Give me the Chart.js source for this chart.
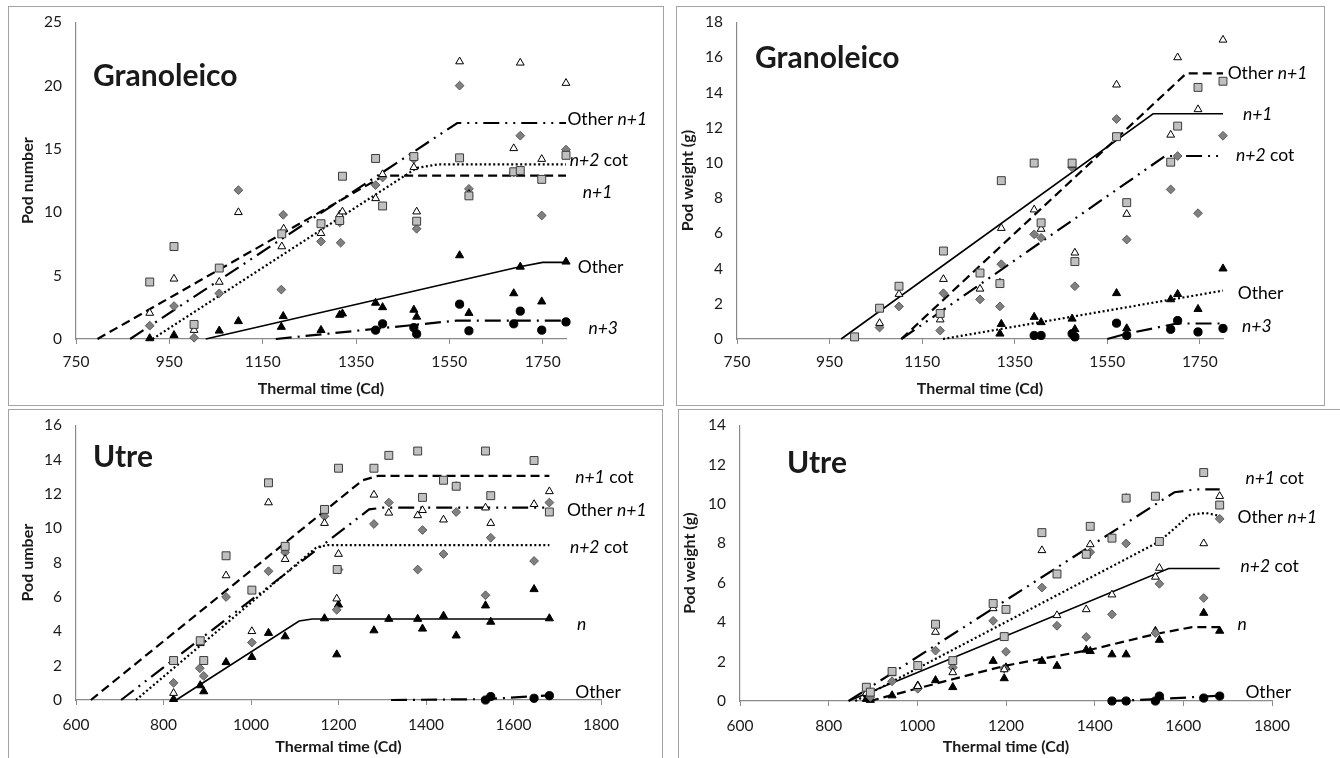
<!DOCTYPE html>
<html><head><meta charset="utf-8">
<script src="https://cdn.jsdelivr.net/npm/chart.js@4.4.0/dist/chart.umd.min.js"></script>
<style>
html,body{margin:0;padding:0;background:#fff;width:1340px;height:758px;overflow:hidden;}
.panel{position:absolute;border:1px solid #a3a3a3;box-sizing:border-box;}
canvas{position:absolute;}
</style></head><body>
<div class="panel" style="left:8px;top:6px;width:656px;height:400px"></div>
<div class="panel" style="left:676px;top:6px;width:649px;height:400px"></div>
<div class="panel" style="left:8px;top:409px;width:655px;height:360px"></div>
<div class="panel" style="left:678px;top:409px;width:670px;height:360px"></div>
<canvas id="c1"></canvas><canvas id="c2"></canvas><canvas id="c3"></canvas><canvas id="c4"></canvas>
<script>
// ---------- Tick labels ----------
const granXTicks = [750, 950, 1150, 1350, 1550, 1750];
const utreXTicks = [600, 800, 1000, 1200, 1400, 1600, 1800];
const granNumYTicks = [0, 5, 10, 15, 20, 25];
const granWtYTicks = [0, 2, 4, 6, 8, 10, 12, 14, 16, 18];
const utreNumYTicks = [0, 2, 4, 6, 8, 10, 12, 14, 16];
const utreWtYTicks = [0, 2, 4, 6, 8, 10, 12, 14];

// ---------- Granoleico, pod number ----------
const granNumSquares = [[908,4.5],[960,7.3],[1003,1.15],[1057,5.6],[1191,8.3],[1275,9.1],[1315,9.35],[1321,12.85],[1392,14.25],[1407,10.5],[1474,14.4],[1480,9.3],[1572,14.3],[1592,11.3],[1688,13.2],[1702,13.3],[1748,12.6],[1800,14.5]];
const granNumOpenTri = [[908,2.05],[960,4.75],[1003,0.7],[1057,4.5],[1098,10.0],[1191,7.3],[1195,8.7],[1275,8.35],[1315,9.8],[1321,10.05],[1392,11.1],[1407,13.0],[1474,13.55],[1480,10.05],[1572,21.9],[1592,11.45],[1688,15.05],[1702,21.8],[1748,14.2],[1800,20.2]];
const granNumDiamonds = [[908,1.05],[960,2.6],[1003,0.1],[1057,3.6],[1098,11.75],[1190,3.9],[1194,9.8],[1275,7.7],[1315,9.2],[1317,7.6],[1392,12.15],[1407,12.75],[1474,14.2],[1480,8.7],[1572,20.0],[1592,11.85],[1688,13.15],[1702,16.05],[1748,9.75],[1800,14.95]];
const granNumBlackTri = [[908,0.05],[960,0.3],[1057,0.65],[1098,1.4],[1190,0.95],[1194,1.8],[1275,0.7],[1315,1.9],[1321,2.0],[1392,2.85],[1407,2.5],[1474,2.3],[1480,1.75],[1572,6.6],[1592,2.05],[1688,3.6],[1702,5.7],[1748,2.95],[1800,6.1]];
const granNumCircles = [[1392,0.7],[1407,1.2],[1474,0.9],[1480,0.4],[1572,2.75],[1592,0.65],[1688,1.2],[1702,2.2],[1748,0.7],[1800,1.35]];
const granNumOtherN1 = [[866,0],[1567,17.05],[1800,17.05]];
const granNumN2cot = [[914,0],[1480,13.5],[1525,13.78],[1800,13.78]];
const granNumN1 = [[796,0],[1410,12.9],[1800,12.9]];
const granNumOther = [[1028,0],[1701,5.7],[1750,6.05],[1800,6.05]];
const granNumN3 = [[1178,0],[1565,1.45],[1800,1.45]];

// ---------- Granoleico, pod weight ----------
const granWtSquares = [[1004,0.12],[1058,1.75],[1100,3.0],[1189,1.45],[1196,5.0],[1275,3.75],[1318,3.15],[1321,9.0],[1392,10.0],[1407,6.6],[1474,10.0],[1480,4.4],[1570,11.5],[1592,7.75],[1687,10.05],[1702,12.1],[1746,14.3],[1800,14.65]];
const granWtOpenTri = [[1058,0.9],[1100,2.55],[1189,1.1],[1196,3.4],[1275,2.85],[1318,3.2],[1321,6.3],[1392,7.35],[1407,6.25],[1474,9.9],[1480,4.9],[1570,14.45],[1592,7.1],[1687,11.6],[1702,16.0],[1746,13.05],[1800,17.0]];
const granWtDiamonds = [[1058,0.65],[1100,1.85],[1189,0.48],[1196,2.6],[1275,2.25],[1318,1.85],[1321,4.25],[1392,5.95],[1407,5.75],[1474,9.75],[1480,3.0],[1570,12.5],[1592,5.65],[1687,8.5],[1702,10.4],[1746,7.15],[1800,11.55]];
const granWtBlackTri = [[1318,0.3],[1321,0.85],[1392,1.25],[1407,0.95],[1474,1.15],[1480,0.55],[1570,2.6],[1592,0.6],[1687,2.25],[1702,2.55],[1746,1.7],[1800,4.0]];
const granWtCircles = [[1392,0.2],[1407,0.2],[1474,0.3],[1480,0.12],[1570,0.9],[1592,0.2],[1687,0.55],[1702,1.05],[1746,0.4],[1800,0.6]];
const granWtN1 = [[975,0],[1649,12.8],[1800,12.8]];
const granWtOtherN1 = [[1105,0],[1721,15.1],[1800,15.1]];
const granWtN2cot = [[1105,0],[1675,10.4],[1800,10.4]];
const granWtOther = [[1195,0],[1800,2.75]];
const granWtN3 = [[1550,0],[1592,0.3],[1700,0.88],[1800,0.88]];

// ---------- Utre, pod number ----------
const utreNumSquares = [[823,2.3],[884,3.45],[892,2.3],[943,8.4],[1002,6.4],[1040,12.65],[1078,8.95],[1168,11.1],[1197,7.6],[1200,13.5],[1281,13.5],[1315,14.25],[1381,14.5],[1392,11.8],[1440,12.8],[1469,12.45],[1536,14.5],[1548,11.9],[1647,13.95],[1682,10.95]];
const utreNumOpenTri = [[823,0.4],[884,3.3],[943,7.25],[1002,4.0],[1040,11.5],[1078,8.2],[1168,10.3],[1196,5.9],[1200,8.5],[1281,11.95],[1315,10.9],[1381,10.75],[1392,11.05],[1440,10.5],[1469,12.45],[1536,11.2],[1548,10.3],[1647,11.4],[1682,12.15]];
const utreNumDiamonds = [[823,1.0],[883,1.85],[892,1.4],[943,6.0],[1002,3.35],[1040,7.5],[1078,8.6],[1168,10.7],[1196,5.25],[1200,7.6],[1281,10.25],[1315,11.5],[1381,7.6],[1392,9.9],[1440,8.5],[1469,10.95],[1536,6.1],[1548,9.45],[1647,8.1],[1682,11.5]];
const utreNumBlackTri = [[823,0.05],[884,0.85],[892,0.5],[943,2.2],[1002,2.5],[1040,3.9],[1078,3.7],[1168,4.75],[1196,2.65],[1200,5.55],[1281,4.05],[1315,4.72],[1381,4.72],[1392,4.15],[1440,4.9],[1469,3.75],[1536,5.5],[1548,4.55],[1647,6.45],[1682,4.75]];
const utreNumCircles = [[1536,0.0],[1548,0.2],[1647,0.1],[1682,0.25]];
const utreNumN1cot = [[634,0],[1255,12.8],[1290,13.05],[1682,13.05]];
const utreNumOtherN1 = [[703,0],[1270,11.1],[1300,11.2],[1682,11.2]];
const utreNumN2cot = [[737,0],[1150,8.9],[1175,9.02],[1682,9.02]];
const utreNumN = [[829,0],[1110,4.6],[1140,4.72],[1682,4.72]];
const utreNumOther = [[1320,0],[1536,0.05],[1682,0.27]];

// ---------- Utre, pod weight ----------
const utreWtSquares = [[885,0.7],[894,0.45],[943,1.5],[1001,1.8],[1041,3.9],[1080,2.05],[1171,4.95],[1196,3.27],[1200,4.65],[1281,8.55],[1315,6.45],[1381,7.45],[1390,8.87],[1439,8.27],[1471,10.3],[1537,10.4],[1546,8.1],[1646,11.6],[1682,9.95]];
const utreWtOpenTri = [[885,0.4],[943,1.4],[1001,0.75],[1041,3.5],[1080,1.45],[1171,4.7],[1196,1.6],[1281,7.65],[1315,4.35],[1381,4.65],[1390,7.95],[1439,5.4],[1471,10.3],[1537,6.3],[1546,6.75],[1646,8.0],[1682,10.4]];
const utreWtDiamonds = [[885,0.45],[894,0.2],[943,1.0],[1001,0.62],[1041,2.56],[1080,1.7],[1171,4.07],[1196,1.65],[1200,2.5],[1281,5.76],[1315,3.82],[1381,3.25],[1390,7.56],[1439,4.4],[1471,8.0],[1537,3.45],[1546,5.95],[1646,5.23],[1682,9.25]];
const utreWtBlackTri = [[885,0.1],[894,0.05],[943,0.28],[1001,0.78],[1041,1.05],[1080,0.7],[1171,2.03],[1196,1.15],[1200,1.7],[1281,2.03],[1315,1.78],[1381,2.6],[1390,2.53],[1439,2.36],[1471,2.36],[1537,3.55],[1546,3.1],[1646,4.47],[1682,3.56]];
const utreWtCircles = [[1439,0],[1471,0],[1537,0],[1546,0.25],[1646,0.15],[1682,0.25]];
const utreWtN1cot = [[845,0],[1580,10.6],[1630,10.75],[1682,10.75]];
const utreWtOtherN1 = [[860,0],[1546,8.1],[1615,9.45],[1650,9.55],[1682,9.4]];
const utreWtN2cot = [[845,0],[1567,6.73],[1682,6.73]];
const utreWtN = [[893,0],[1082,1.12],[1200,1.8],[1390,2.6],[1537,3.4],[1620,3.75],[1682,3.75]];
const utreWtOther = [[1435,0],[1546,0.1],[1682,0.27]];

// ---------- styles ----------
const FONT = 'Lato, "Open Sans", sans-serif';
const AXIS_GRAY = '#8a8a8a';
const DASH = [9,5], DOT = [2,2.5], LDD = [16,6,2,6,2,6], LD = [16,6,2,6], SOLID = [];

function markerSets(sq, ot, di, bt, ci) {
  return [
    {data: sq, pointStyle:'rect', pointRadius:5.6, backgroundColor:'#c0c0c0', borderColor:'#3c3c3c', borderWidth:1},
    {data: ot, pointStyle:'triangle', pointRadius:4.5, backgroundColor:'#ffffff', borderColor:'#000', borderWidth:1},
    {data: di, pointStyle:'rectRot', pointRadius:4.4, backgroundColor:'#808080', borderColor:'#5c5c5c', borderWidth:1},
    {data: bt, pointStyle:'triangle', pointRadius:4.7, backgroundColor:'#000', borderColor:'#000', borderWidth:1},
    {data: ci, pointStyle:'circle', pointRadius:4.1, backgroundColor:'#000', borderColor:'#000', borderWidth:1}
  ].map(d => Object.assign({showLine:false, clip:10, pointHoverRadius:d.pointRadius}, d));
}
function lineSet(pts, dash, w) {
  return {data: pts, showLine:true, pointRadius:0, borderColor:'#000', borderWidth:w,
          borderDash:dash, fill:false, tension:0, clip:4, borderCapStyle:'butt'};
}

const labelPlugin = {
  id:'lbl',
  afterDatasetsDraw(chart) {
    const o = chart.options.plugins.lbl;
    const ctx = chart.ctx, xs = chart.scales.x, ys = chart.scales.y;
    ctx.save();
    ctx.fillStyle = '#000';
    ctx.textBaseline = 'middle';
    ctx.textAlign = 'left';
    for (const l of o.labels) {
      let px = xs.getPixelForValue(l.x);
      const py = ys.getPixelForValue(l.y);
      for (const [txt, it] of l.parts) {
        ctx.font = (it ? 'italic ' : '') + '17.5px ' + FONT;
        ctx.fillText(txt, px, py);
        px += ctx.measureText(txt).width;
      }
    }
    ctx.fillStyle = '#1a1a1a';
    ctx.font = 'bold 30px ' + FONT;
    ctx.textBaseline = 'alphabetic';
    ctx.fillText(o.title, chart.chartArea.left + o.titleDx, chart.chartArea.top + o.titleDy);
    ctx.restore();
  }
};

function makeChart(id, box, area, xr, yr, yTitle, datasets, labels, title, titleDx, titleDy, yTitlePad) {
  const cv = document.getElementById(id);
  cv.width = box.w; cv.height = box.h;
  cv.style.left = box.left + 'px'; cv.style.top = box.top + 'px';
  cv.style.width = box.w + 'px'; cv.style.height = box.h + 'px';
  const yW = area.left - box.left;
  const xH = box.top + box.h - area.bottom;
  new Chart(cv, {
    type:'scatter',
    data:{datasets},
    options:{
      responsive:false, animation:false, devicePixelRatio:1,
      layout:{padding:{left:0, top:area.top - box.top, right:box.left + box.w - area.right, bottom:0}},
      plugins:{legend:{display:false}, tooltip:{enabled:false},
        lbl:{labels, title, titleDx, titleDy}},
      scales:{
        x:{type:'linear', min:xr.min, max:xr.max,
           afterBuildTicks:s => { s.ticks = xr.ticks.map(v => ({value:v})); },
           afterFit:s => { s.height = xH; },
           grid:{display:true, drawOnChartArea:false, drawTicks:true, tickLength:5, color:AXIS_GRAY},
           border:{display:true, color:AXIS_GRAY, width:1.2},
           ticks:{color:'#1a1a1a', font:{family:FONT, size:15.5}, padding:xr.tickPad, maxRotation:0, autoSkip:false,
                  callback:v => String(v)},
           title:{display:true, text:'Thermal time (Cd)', color:'#1a1a1a', font:{family:FONT, size:16, weight:'bold'}, padding:{top:0, bottom:xr.titlePad}}},
        y:{type:'linear', min:yr.min, max:yr.max,
           afterBuildTicks:s => { s.ticks = yr.ticks.map(v => ({value:v})); },
           afterFit:s => { s.width = yW; },
           grid:{display:false},
           border:{display:true, color:AXIS_GRAY, width:1.2},
           ticks:{color:'#1a1a1a', font:{family:FONT, size:15.5}, padding:6, autoSkip:false, callback:v => String(v)},
           title:{display:true, text:yTitle, color:'#1a1a1a', font:{family:FONT, size:16, weight:'bold'}, padding:{top:yTitlePad, bottom:0}}}
      }
    },
    plugins:[labelPlugin]
  });
}

function L(parts, x, y) { return {parts, x, y}; }

makeChart('c1', {left:9, top:7, w:654, h:398}, {left:76, top:19, right:566, bottom:339},
  {min:750, max:1800, ticks:granXTicks, titlePad:7, tickPad:8.5},
  {min:0, max:25, ticks:granNumYTicks}, 'Pod number',
  [...markerSets(granNumSquares, granNumOpenTri, granNumDiamonds, granNumBlackTri, granNumCircles),
   lineSet(granNumOtherN1, LDD, 2.2), lineSet(granNumN2cot, DOT, 2.2), lineSet(granNumN1, DASH, 2.2),
   lineSet(granNumOther, SOLID, 1.6), lineSet(granNumN3, LD, 2.2)],
  [L([['Other ',0],['n+1',1]],1803,17.37), L([['n+2',1],[' cot',0]],1808,14.1), L([['n+1',1]],1836,11.6),
   L([['Other',0]],1825,5.69), L([['n+3',1]],1848,0.86)],
  'Granoleico', 17, 64, 9);

makeChart('c2', {left:677, top:7, w:647, h:398}, {left:737, top:19, right:1223, bottom:339},
  {min:750, max:1800, ticks:granXTicks, titlePad:7, tickPad:8.5},
  {min:0, max:18, ticks:granWtYTicks}, 'Pod weight (g)',
  [...markerSets(granWtSquares, granWtOpenTri, granWtDiamonds, granWtBlackTri, granWtCircles),
   lineSet(granWtN1, SOLID, 1.6), lineSet(granWtOtherN1, DASH, 2.2), lineSet(granWtN2cot, LDD, 2.2),
   lineSet(granWtOther, DOT, 2.2), lineSet(granWtN3, LD, 2.2)],
  [L([['Other ',0],['n+1',1]],1810,15.1), L([['n+1',1]],1843,12.76), L([['n+2',1],[' cot',0]],1828,10.46),
   L([['Other',0]],1832,2.6), L([['n+3',1]],1841,0.7)],
  'Granoleico', 18, 46, 1);

makeChart('c3', {left:9, top:410, w:653, h:348}, {left:76, top:420, right:601, bottom:700},
  {min:600, max:1800, ticks:utreXTicks, titlePad:1.5, tickPad:10.5},
  {min:0, max:16, ticks:utreNumYTicks}, 'Pod umber',
  [...markerSets(utreNumSquares, utreNumOpenTri, utreNumDiamonds, utreNumBlackTri, utreNumCircles),
   lineSet(utreNumN1cot, DASH, 2.2), lineSet(utreNumOtherN1, LDD, 2.2), lineSet(utreNumN2cot, DOT, 2.2),
   lineSet(utreNumN, SOLID, 1.6), lineSet(utreNumOther, LD, 2.2)],
  [L([['n+1',1],[' cot',0]],1741,12.97), L([['Other ',0],['n+1',1]],1722,11.03), L([['n+2',1],[' cot',0]],1729,8.91),
   L([['n',1]],1745,4.4), L([['Other',0]],1741,0.46)],
  'Utre', 17, 42, 9);

makeChart('c4', {left:679, top:410, w:660, h:348}, {left:740, top:420, right:1272, bottom:701},
  {min:600, max:1800, ticks:utreXTicks, titlePad:1.5, tickPad:10.5},
  {min:0, max:14, ticks:utreWtYTicks}, 'Pod weight (g)',
  [...markerSets(utreWtSquares, utreWtOpenTri, utreWtDiamonds, utreWtBlackTri, utreWtCircles),
   lineSet(utreWtN1cot, LDD, 2.2), lineSet(utreWtOtherN1, DOT, 2.2), lineSet(utreWtN2cot, SOLID, 1.6),
   lineSet(utreWtN, DASH, 2.2), lineSet(utreWtOther, LD, 2.2)],
  [L([['n+1',1],[' cot',0]],1740,11.3), L([['Other ',0],['n+1',1]],1722,9.35), L([['n+2',1],[' cot',0]],1729,6.86),
   L([['n',1]],1722,3.87), L([['Other',0]],1740,0.43)],
  'Utre', 47, 48, 1);
</script>
</body></html>
